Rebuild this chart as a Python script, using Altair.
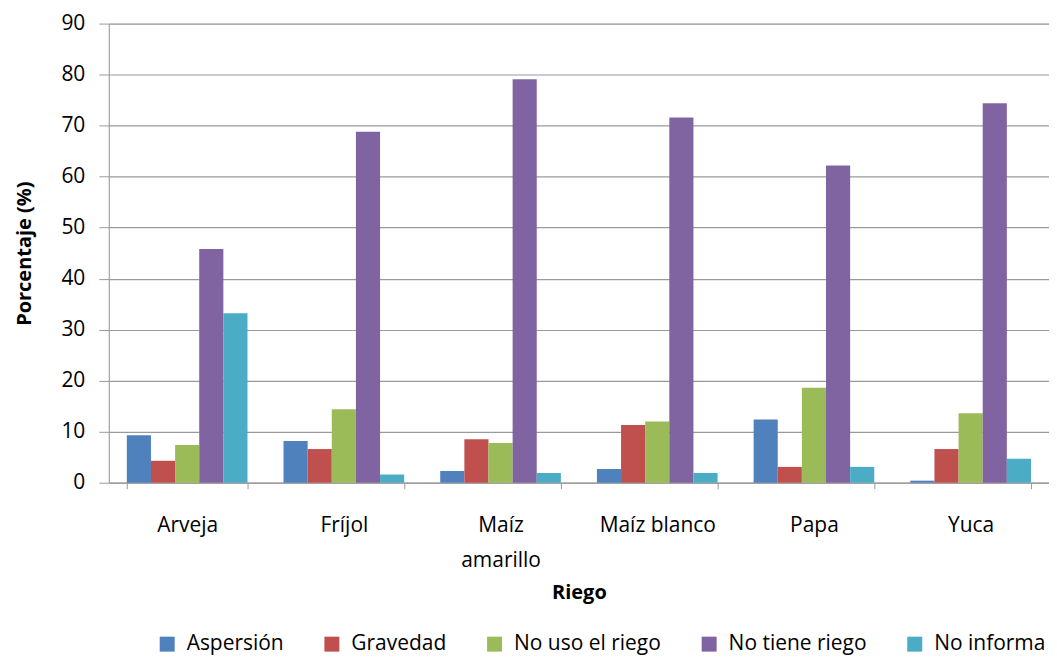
import altair as alt
import pandas as pd

cultivos = ["Arveja", "Fríjol", "Maíz amarillo", "Maíz blanco", "Papa", "Yuca"]
series = ["Aspersión", "Gravedad", "No uso el riego", "No tiene riego", "No informa"]
aspersion = [9.3, 8.2, 2.3, 2.7, 12.4, 0.4]
gravedad = [4.3, 6.6, 8.5, 11.3, 3.1, 6.6]
no_uso = [7.4, 14.4, 7.8, 12.0, 18.6, 13.6]
no_tiene = [45.8, 68.8, 79.1, 71.6, 62.2, 74.4]
no_informa = [33.2, 1.6, 1.9, 1.9, 3.1, 4.7]
colores = ["#4F81BD", "#C0504D", "#9BBB59", "#8064A2", "#4BACC6"]

rows = []
for s, vals in zip(series, [aspersion, gravedad, no_uso, no_tiene, no_informa]):
    for c, v in zip(cultivos, vals):
        rows.append({"Riego": c, "Serie": s, "Valor": v})
df = pd.DataFrame(rows)

font = "Open Sans"

chart = alt.Chart(df).mark_bar().encode(
    x=alt.X("Riego:N", sort=cultivos,
            scale=alt.Scale(paddingInner=0.23, paddingOuter=0.115),
            axis=alt.Axis(title="Riego", labelAngle=0, tickBand="extent",
                          labelExpr="datum.label == 'Maíz amarillo' ? ['Maíz', 'amarillo'] : datum.label",
                          labelLineHeight=35, labelPadding=26, titlePadding=12,
                          labelFontSize=21, titleFontSize=20, titleFontWeight="bold",
                          labelColor="#000", titleColor="#000",
                          domainColor="#9a9a9a", tickColor="#9a9a9a", tickSize=6,
                          labelFont=font, titleFont=font)),
    xOffset=alt.XOffset("Serie:N", sort=series, scale=alt.Scale(paddingInner=0, paddingOuter=0)),
    y=alt.Y("Valor:Q", scale=alt.Scale(domain=[0, 90]),
            axis=alt.Axis(title="Porcentaje (%)", values=list(range(0, 91, 10)),
                          labelFontSize=21, titleFontSize=20, titleFontWeight="bold",
                          labelColor="#000", titleColor="#000", labelPadding=14, titlePadding=26,
                          domainColor="#9a9a9a", tickColor="#9a9a9a", tickSize=10,
                          gridColor="#9a9a9a", gridWidth=1.2,
                          labelFont=font, titleFont=font)),
    color=alt.Color("Serie:N", sort=series,
                    scale=alt.Scale(domain=series, range=colores),
                    legend=alt.Legend(title=None, orient="none", direction="horizontal",
                                      legendX=48, legendY=611,
                                      symbolType="square", symbolSize=225, symbolStrokeWidth=0,
                                      labelOffset=9,
                                      labelFontSize=21, labelFont=font, labelColor="#000",
                                      columnPadding=37)),
).properties(width=942, height=460, padding={"left": 6, "right": 0, "top": 4, "bottom": 0}
).configure_view(stroke=None).configure(background="white")

chart.save("out.html", embed_options={"renderer": "svg", "actions": False})
